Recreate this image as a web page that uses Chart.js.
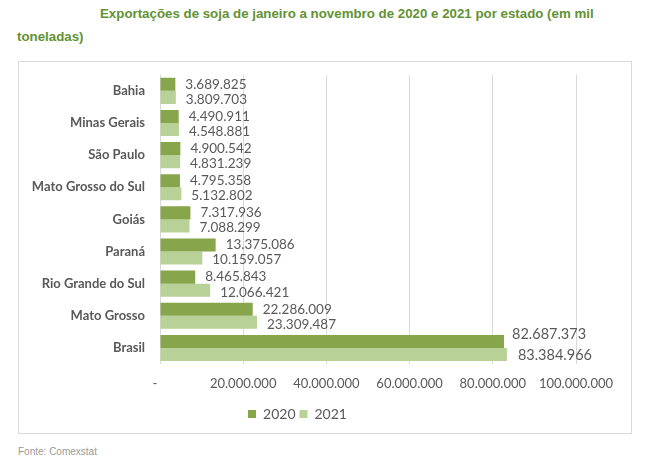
<!DOCTYPE html>
<html>
<head>
<meta charset="utf-8">
<script src="https://cdn.jsdelivr.net/npm/chart.js@4"></script>
<style>
  body { margin: 0; background: #fff; width: 655px; height: 459px; position: relative; overflow: hidden; }
  .title { position: absolute; font-family: "Liberation Sans", Arial, sans-serif;
           font-weight: bold; font-size: 13.3px; color: #629233; white-space: nowrap; }
  .frame { position: absolute; left: 18px; top: 61px; width: 612px; height: 371px; border: 1px solid #d9d9d9; }
  .chart-box { position: absolute; left: 19px; top: 52px; width: 611px; height: 379px; }
  .source { position: absolute; left: 18px; top: 446px; font-family: "Liberation Sans", Arial, sans-serif;
            font-size: 10px; color: #9a9a9a; }
</style>
</head>
<body>
<div class="title" style="left:100px; top:6px;">Exportações de soja de janeiro a novembro de 2020 e 2021 por estado (em mil</div>
<div class="title" style="left:17px; top:29px;">toneladas)</div>
<div class="frame"></div>
<div class="chart-box"><canvas id="sojaChart"></canvas></div>
<div class="source">Fonte: Comexstat</div>

<script>
// categories and values (em mil toneladas)
const estados = [
  "Bahia", "Minas Gerais", "São Paulo", "Mato Grosso do Sul", "Goiás",
  "Paraná", "Rio Grande do Sul", "Mato Grosso", "Brasil"
];
const valores2020 = [3689825, 4490911, 4900542, 4795358, 7317936, 13375086, 8465843, 22286009, 82687373];
const valores2021 = [3809703, 4548881, 4831239, 5132802, 7088299, 10159057, 12066421, 23309487, 83384966];
const eixoMax = 100000000;
const eixoPasso = 20000000;

const corTexto = "#595959";

// 20000000 -> "20.000.000"
function formatar(n) {
  return String(n).replace(/\B(?=(\d{3})+(?!\d))/g, ".");
}

// Draw the value next to the end of each bar
const rotulosPlugin = {
  id: "rotulos",
  afterDatasetsDraw(chart) {
    const ctx = chart.ctx;
    ctx.save();
    ctx.fillStyle = corTexto;
    ctx.textAlign = "left";
    ctx.textBaseline = "middle";
    chart.data.datasets.forEach((ds, di) => {
      const meta = chart.getDatasetMeta(di);
      meta.data.forEach((bar, i) => {
        const ultimo = i === ds.data.length - 1;
        ctx.font = (ultimo ? "14.5px" : "13.5px") + " Lato, sans-serif";
        let dy = di === 0 ? 0 : 2;
        if (ultimo) dy = di === 0 ? -7 : 1;
        const dx = ultimo ? (di === 0 ? 8 : 11) : 10;
        ctx.fillText(formatar(ds.data[i]), bar.x + dx, bar.y + dy);
      });
    });
    ctx.restore();
  },
};

document.addEventListener("DOMContentLoaded", function () {
  const ctx = document.getElementById("sojaChart").getContext("2d");

  new Chart(ctx, {
    type: "bar",
    data: {
      labels: estados,
      datasets: [
        {
          label: "2020",
          data: valores2020,
          backgroundColor: "#87a54b",
          categoryPercentage: 0.8125,
          barPercentage: 1,
        },
        {
          label: "2021",
          data: valores2021,
          backgroundColor: "#b7d197",
          categoryPercentage: 0.8125,
          barPercentage: 1,
        },
      ],
    },
    options: {
      indexAxis: "y",
      responsive: true,
      maintainAspectRatio: false,
      animation: false,
      layout: { padding: { left: 0, right: 54, top: 7, bottom: 0 } },
      scales: {
        x: {
          min: 0,
          max: eixoMax,
          afterFit: (scale) => { scale.height = 39; },
          ticks: {
            stepSize: eixoPasso,
            padding: 12,
            color: corTexto,
            font: { family: "Lato", size: 13 },
            maxRotation: 0,
            callback: (v) => (v === 0 ? "-   " : formatar(v)),
          },
          grid: { color: "#d9d9d9", drawTicks: false },
          border: { display: false },
        },
        y: {
          afterFit: (scale) => { scale.width = 141; },
          ticks: {
            padding: 15,
            color: corTexto,
            font: { family: "Lato", size: 13, weight: "bold" },
          },
          grid: { display: false, drawTicks: false },
          border: { display: false },
        },
      },
      plugins: {
        legend: {
          position: "bottom",
          labels: {
            boxWidth: 8,
            boxHeight: 8,
            padding: 4,
            color: corTexto,
            font: { family: "Lato", size: 14 },
          },
        },
        tooltip: { enabled: false },
      },
    },
    plugins: [rotulosPlugin],
  });
});
</script>
</body>
</html>
